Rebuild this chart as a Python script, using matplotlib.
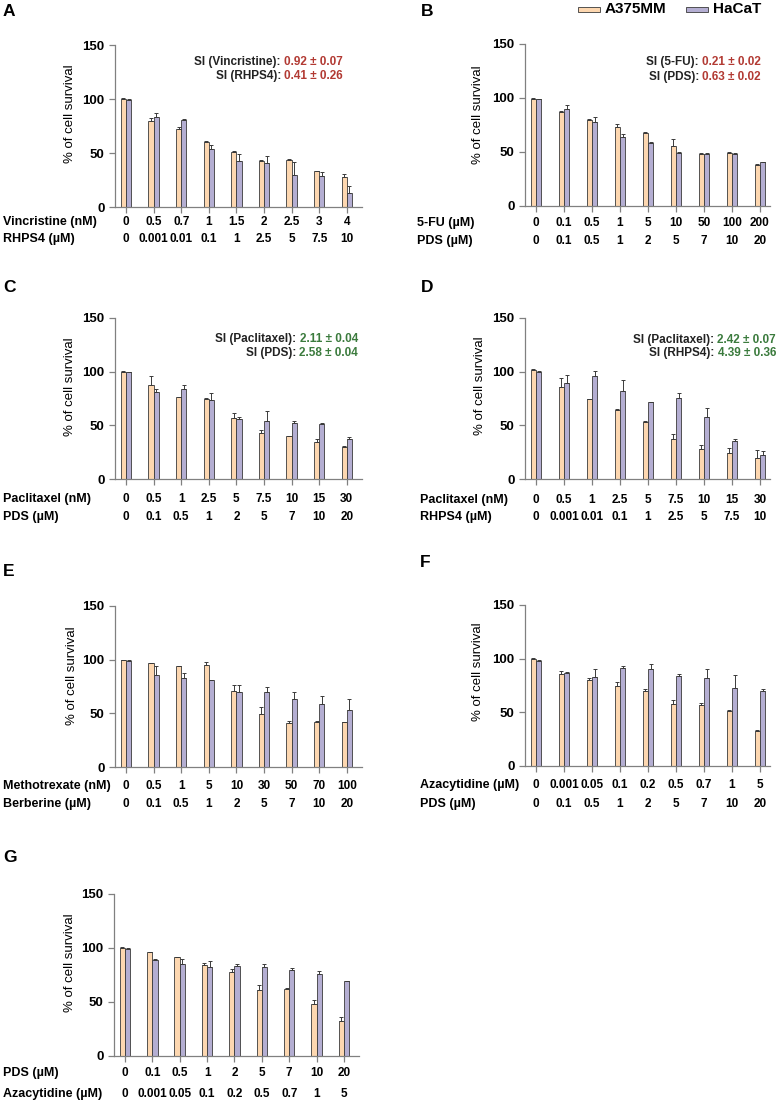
import matplotlib
matplotlib.use("Agg")
import matplotlib.pyplot as plt
import matplotlib.transforms as mtransforms
from matplotlib.patches import Rectangle
import numpy as np

plt.rcParams['font.family'] = ['Liberation Sans', 'DejaVu Sans']

# =============================================
# DATA
# =============================================
a_drug1 = 'Vincristine (nM)'
a_drug2 = 'RHPS4 (\u00b5M)'
a_row1 = ['0', '0.5', '0.7', '1', '1.5', '2', '2.5', '3', '4']
a_row2 = ['0', '0.001', '0.01', '0.1', '1', '2.5', '5', '7.5', '10']
a_a375 = [100, 80, 72, 60.5, 51, 43, 43.5, 33, 27.5]
a_a375_err = [0.5, 2, 2.5, 0.5, 0.5, 0.5, 0.5, 0.5, 3]
a_hacat = [99.5, 83, 81, 54, 43, 41, 30, 29, 13]
a_hacat_err = [0.5, 4, 0.5, 3, 6.5, 6, 12, 3.5, 6]
a_si = [('SI (Vincristine): ', '0.92 \u00b1 0.07'), ('SI (RHPS4): ', '0.41 \u00b1 0.26')]

b_drug1 = '5-FU (\u00b5M)'
b_drug2 = 'PDS (\u00b5M)'
b_row1 = ['0', '0.1', '0.5', '1', '5', '10', '50', '100', '200']
b_row2 = ['0', '0.1', '0.5', '1', '2', '5', '7', '10', '20']
b_a375 = [99.5, 87.5, 79.5, 73.5, 68, 55.5, 48.5, 49.5, 38]
b_a375_err = [0.5, 0.5, 1.2, 2, 0.5, 7, 0.5, 0.5, 0.5]
b_hacat = [99, 89.5, 78, 64, 58.5, 49.5, 48.5, 48.5, 40.5]
b_hacat_err = [0.5, 3.7, 4.5, 3, 0.5, 0.5, 0.5, 0.5, 0.5]
b_si = [('SI (5-FU): ', '0.21 \u00b1 0.02'), ('SI (PDS): ', '0.63 \u00b1 0.02')]

c_drug1 = 'Paclitaxel (nM)'
c_drug2 = 'PDS (\u00b5M)'
c_row1 = ['0', '0.5', '1', '2.5', '5', '7.5', '10', '15', '30']
c_row2 = ['0', '0.1', '0.5', '1', '2', '5', '7', '10', '20']
c_a375 = [99.7, 87.5, 76, 75, 57, 43, 40, 34.5, 30]
c_a375_err = [0.5, 8.5, 0.5, 0.5, 4.5, 3, 0.5, 2.5, 0.5]
c_hacat = [99.5, 81, 83.5, 73.5, 56, 54.5, 52, 51.5, 37]
c_hacat_err = [0.5, 2.8, 4.3, 7, 1.8, 8.7, 1.8, 0.8, 2]
c_si = [('SI (Paclitaxel): ', '2.11 \u00b1 0.04'), ('SI (PDS): ', '2.58 \u00b1 0.04')]

d_drug1 = 'Paclitaxel (nM)'
d_drug2 = 'RHPS4 (\u00b5M)'
d_row1 = ['0', '0.5', '1', '2.5', '5', '7.5', '10', '15', '30']
d_row2 = ['0', '0.001', '0.01', '0.1', '1', '2.5', '5', '7.5', '10']
d_a375 = [101.5, 86, 74.5, 64.5, 53.5, 37, 28, 24, 19.5]
d_a375_err = [1.2, 8, 0.5, 0.5, 0.8, 5, 3.7, 5, 7.4]
d_hacat = [100, 89.5, 96, 82, 71.5, 75.5, 58, 35.7, 22.5]
d_hacat_err = [0.5, 7.5, 5, 10, 0.5, 4.6, 7.8, 1.2, 4]
d_si = [('SI (Paclitaxel): ', '2.42 \u00b1 0.07'), ('SI (RHPS4): ', '4.39 \u00b1 0.36')]

e_drug1 = 'Methotrexate (nM)'
e_drug2 = 'Berberine (\u00b5M)'
e_row1 = ['0', '0.5', '1', '5', '10', '30', '50', '70', '100']
e_row2 = ['0', '0.1', '0.5', '1', '2', '5', '7', '10', '20']
e_a375 = [99.6, 96.8, 93.7, 94.6, 70.6, 49.5, 40.8, 42.3, 41.7]
e_a375_err = [0.5, 0.5, 0.5, 3, 6.2, 6.2, 2.5, 0.5, 0.5]
e_hacat = [99, 86, 82.8, 81, 70, 70, 63, 58.5, 53]
e_hacat_err = [0.5, 7.8, 4.4, 0.5, 6.8, 5, 7.2, 7.2, 10]

f_drug1 = 'Azacytidine (\u00b5M)'
f_drug2 = 'PDS (\u00b5M)'
f_row1 = ['0', '0.001', '0.05', '0.1', '0.2', '0.5', '0.7', '1', '5']
f_row2 = ['0', '0.1', '0.5', '1', '2', '5', '7', '10', '20']
f_a375 = [100, 85.7, 80.4, 74.8, 69.6, 57.8, 56.8, 51, 32.6]
f_a375_err = [1, 3, 2, 3, 2, 4, 2, 1.5, 1]
f_hacat = [97.8, 87, 83.2, 91.3, 90.4, 84.2, 82.3, 72.7, 69.9]
f_hacat_err = [1, 0.5, 7, 1.5, 4.3, 1.5, 7.8, 12, 2]

g_drug1 = 'PDS (\u00b5M)'
g_drug2 = 'Azacytidine (\u00b5M)'
g_row1 = ['0', '0.1', '0.5', '1', '2', '5', '7', '10', '20']
g_row2 = ['0', '0.001', '0.05', '0.1', '0.2', '0.5', '0.7', '1', '5']
g_a375 = [100, 96, 91.4, 84, 77.5, 60.7, 62.3, 48.6, 32.8]
g_a375_err = [0.5, 0.5, 0.3, 2.5, 3, 4.6, 0.5, 3, 3]
g_hacat = [99.2, 89.2, 85, 82.4, 83, 82.4, 79.3, 76, 69]
g_hacat_err = [0.5, 0.5, 5, 5.6, 2.5, 2.5, 2, 2.5, 0.5]

series_names = ['A375MM', 'HaCaT']

# =============================================
# STYLE / LAYOUT (pixels of a 777x1102 canvas)
# =============================================
W, H = 777, 1102
ORANGE = '#fdd7b0'
PURPLE = '#b4aed2'
EDGE = '#3a3a3a'
AXC = '#808080'
RED = '#b23a33'
GREEN = '#3b7b3d'
BW = 0.19
FS_TICK = 9.5
FS_DOSE = 8.5
FS_NAME = 9

# axis box px (left, right, top, bottom), xlim, letter xy, ylabel xy,
# row-label x, row y's, SI right x + y's, SI colour
layout = {
    'A': dict(box=(115, 362, 45, 207), xl=(-0.40, 8.55), let=(3, 12), yl=(70, 114),
              lx=3, rows=(222, 239), si=(343, (62, 76)), col=RED),
    'B': dict(box=(525, 770, 44, 206), xl=(-0.39, 8.36), let=(421, 11), yl=(478, 115),
              lx=417, rows=(223, 241), si=(761, (62, 77)), col=RED),
    'C': dict(box=(115, 362, 318, 479), xl=(-0.40, 8.55), let=(3, 287), yl=(70, 387),
              lx=3, rows=(499, 517), si=(358, (339, 353)), col=GREEN),
    'D': dict(box=(525, 770, 318, 479), xl=(-0.39, 8.36), let=(421, 287), yl=(480, 386),
              lx=420, rows=(500, 517), si=(776, (340, 353)), col=GREEN),
    'E': dict(box=(115, 362, 606, 767), xl=(-0.40, 8.55), let=(3, 572), yl=(72, 676),
              lx=3, rows=(786, 804), si=None, col=None),
    'F': dict(box=(525, 770, 605, 766), xl=(-0.39, 8.36), let=(420, 563), yl=(478, 672),
              lx=420, rows=(785, 804), si=None, col=None),
    'G': dict(box=(114, 359, 894, 1056), xl=(-0.40, 8.55), let=(3, 857), yl=(70, 963),
              lx=3, rows=(1073, 1094), si=None, col=None),
}

panels = [
    ('A', a_drug1, a_drug2, a_row1, a_row2, a_a375, a_a375_err, a_hacat, a_hacat_err, a_si),
    ('B', b_drug1, b_drug2, b_row1, b_row2, b_a375, b_a375_err, b_hacat, b_hacat_err, b_si),
    ('C', c_drug1, c_drug2, c_row1, c_row2, c_a375, c_a375_err, c_hacat, c_hacat_err, c_si),
    ('D', d_drug1, d_drug2, d_row1, d_row2, d_a375, d_a375_err, d_hacat, d_hacat_err, d_si),
    ('E', e_drug1, e_drug2, e_row1, e_row2, e_a375, e_a375_err, e_hacat, e_hacat_err, None),
    ('F', f_drug1, f_drug2, f_row1, f_row2, f_a375, f_a375_err, f_hacat, f_hacat_err, None),
    ('G', g_drug1, g_drug2, g_row1, g_row2, g_a375, g_a375_err, g_hacat, g_hacat_err, None),
]

fig = plt.figure(figsize=(W / 100, H / 100), dpi=100)


def fx(px):
    return px / W


def fy(py):
    return 1 - py / H


for letter, d1, d2, r1, r2, v1, e1, v2, e2, si in panels:
    L = layout[letter]
    x0, x1, y0, y1 = L['box']
    ax = fig.add_axes([fx(x0), fy(y1), fx(x1) - fx(x0), (y1 - y0) / H])
    x = np.arange(len(r1))

    ax.bar(x - BW / 2, v1, BW, color=ORANGE, edgecolor=EDGE, linewidth=0.6, zorder=2)
    ax.bar(x + BW / 2, v2, BW, color=PURPLE, edgecolor=EDGE, linewidth=0.6, zorder=2)
    ax.errorbar(x - BW / 2, v1, yerr=[np.zeros(len(e1)), e1], fmt='none',
                ecolor=EDGE, elinewidth=0.7, capsize=1.3, capthick=0.7, zorder=3)
    ax.errorbar(x + BW / 2, v2, yerr=[np.zeros(len(e2)), e2], fmt='none',
                ecolor=EDGE, elinewidth=0.7, capsize=1.3, capthick=0.7, zorder=3)

    ax.set_xlim(*L['xl'])
    ax.set_ylim(0, 150)
    ax.set_yticks([0, 50, 100, 150])
    ax.set_xticks(x)
    ax.set_xticklabels([])
    for s in ['top', 'right']:
        ax.spines[s].set_visible(False)
    for s in ['left', 'bottom']:
        ax.spines[s].set_color(AXC)
        ax.spines[s].set_linewidth(0.9)
    ax.tick_params(axis='both', direction='out', length=4, width=0.9, color=AXC)
    ax.tick_params(axis='y', labelsize=FS_TICK, pad=3.5)
    for t in ax.get_yticklabels():
        t.set_fontweight('bold')
    ax.patch.set_alpha(0)

    # dose rows under the axis
    tr = mtransforms.blended_transform_factory(ax.transData, fig.transFigure)
    for labels, ry in zip((r1, r2), L['rows']):
        for xi, lab in zip(x, labels):
            ax.text(xi, fy(ry), lab, transform=tr, ha='center', va='center',
                    fontsize=FS_DOSE, fontweight='bold')
    for name, ry in zip((d1, d2), L['rows']):
        fig.text(fx(L['lx']), fy(ry), name, ha='left', va='center',
                 fontsize=FS_NAME, fontweight='bold')

    fig.text(fx(L['let'][0]), fy(L['let'][1]), letter, ha='left', va='center',
             fontsize=12.5, fontweight='bold')
    fig.text(fx(L['yl'][0]), fy(L['yl'][1]), '% of cell survival', rotation=90,
             ha='center', va='center', fontsize=9.5)

    # selectivity index: black label + coloured value, right aligned
    if si is not None:
        sx, sys_ = L['si']
        for (lab, val), sy in zip(si, sys_):
            tv = fig.text(fx(sx), fy(sy), val, ha='right', va='center',
                          fontsize=8.5, fontweight='bold', color=L['col'])
            ax.annotate(lab, xy=(0, 0), xycoords=tv, ha='right', va='bottom',
                        fontsize=8.5, fontweight='bold', color='#222222',
                        annotation_clip=False)

# legend
for name, col, px, tx in zip(series_names, [ORANGE, PURPLE], [578, 686], [605, 713]):
    fig.add_artist(Rectangle((fx(px), fy(12)), 22 / W, 5 / H, transform=fig.transFigure,
                             facecolor=col, edgecolor=EDGE, linewidth=0.6))
    fig.text(fx(tx), fy(9), name, ha='left', va='center', fontsize=11, fontweight='bold')

fig.savefig('out.png', dpi=100)
